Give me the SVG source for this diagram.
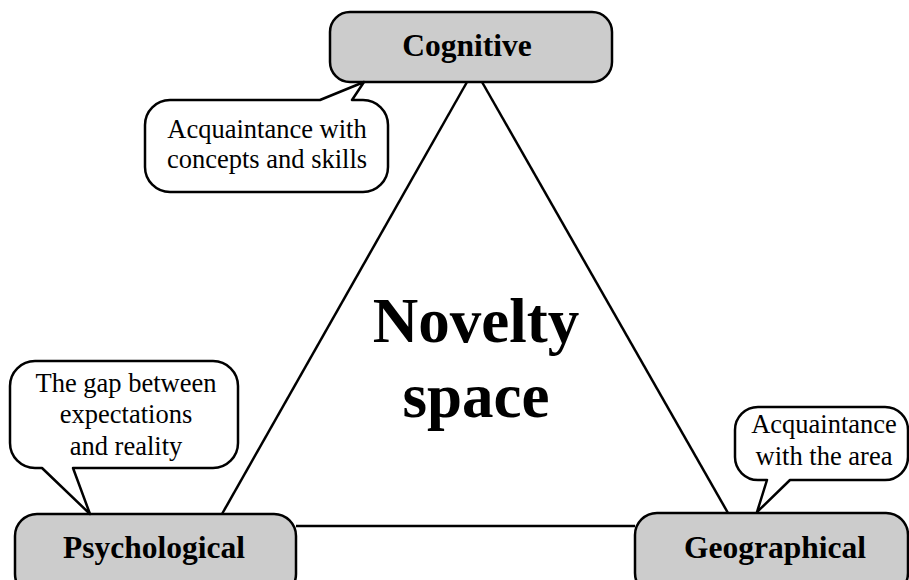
<svg xmlns="http://www.w3.org/2000/svg" width="909" height="580" viewBox="0 0 909 580">
<style>
.box{fill:#cccccc;stroke:#000;stroke-width:2.5}
.call{fill:#fff;stroke:#000;stroke-width:2.5;stroke-linejoin:round}
.edge{stroke:#000;stroke-width:2.5;fill:none}
.lbl{font-family:"Liberation Serif","Times New Roman",serif;font-weight:bold;font-size:31.5px;text-anchor:middle;fill:#000}
.ct{font-family:"Liberation Serif","Times New Roman",serif;font-size:26.5px;text-anchor:middle;fill:#000}
.big{font-family:"Liberation Serif","Times New Roman",serif;font-weight:bold;font-size:63px;text-anchor:middle;fill:#000}
</style>
<rect width="909" height="580" fill="#fff"/>
<g id="connectors">
<line class="edge" x1="467" y1="82" x2="222" y2="514"/>
<line class="edge" x1="482" y1="82" x2="728" y2="513"/>
<line class="edge" x1="296" y1="526" x2="635" y2="526"/>
</g>
<g id="center">
<text class="big" x="476" y="342">Novelty</text>
<text class="big" x="476" y="417">space</text>
</g>
<g id="cognitive">
<rect class="box" x="330" y="12" width="282" height="70" rx="20"/>
<text class="lbl" x="467" y="56">Cognitive</text>
</g>
<g id="psychological">
<rect class="box" x="15" y="514" width="281" height="82" rx="22"/>
<text class="lbl" x="154" y="558">Psychological</text>
</g>
<g id="geographical">
<rect class="box" x="635" y="513" width="273" height="82" rx="22"/>
<text class="lbl" x="775" y="558">Geographical</text>
</g>
<g id="callout-cognitive">
<path class="call" d="M170,100 L320,100 L364,82 L352,100 L363,100 A25,25 0 0 1 388,125 L388,167 A25,25 0 0 1 363,192 L170,192 A25,25 0 0 1 145,167 L145,125 A25,25 0 0 1 170,100 Z"/>
<text class="ct" x="267" y="138">Acquaintance with</text>
<text class="ct" x="267" y="168">concepts and skills</text>
</g>
<g id="callout-psychological">
<path class="call" d="M35,361 L213,361 A25,25 0 0 1 238,386 L238,443 A25,25 0 0 1 213,468 L73,468 L90,514 L42,468 L35,468 A25,25 0 0 1 10,443 L10,386 A25,25 0 0 1 35,361 Z"/>
<text class="ct" x="126" y="392">The gap between</text>
<text class="ct" x="126" y="423">expectations</text>
<text class="ct" x="126" y="455">and reality</text>
</g>
<g id="callout-geographical">
<path class="call" d="M758,407 L885,407 A23,23 0 0 1 908,430 L908,457 A23,23 0 0 1 885,480 L790,480 L757,512 L767,480 L758,480 A23,23 0 0 1 735,457 L735,430 A23,23 0 0 1 758,407 Z"/>
<text class="ct" x="824" y="433">Acquaintance</text>
<text class="ct" x="824" y="465">with the area</text>
</g>
</svg>
